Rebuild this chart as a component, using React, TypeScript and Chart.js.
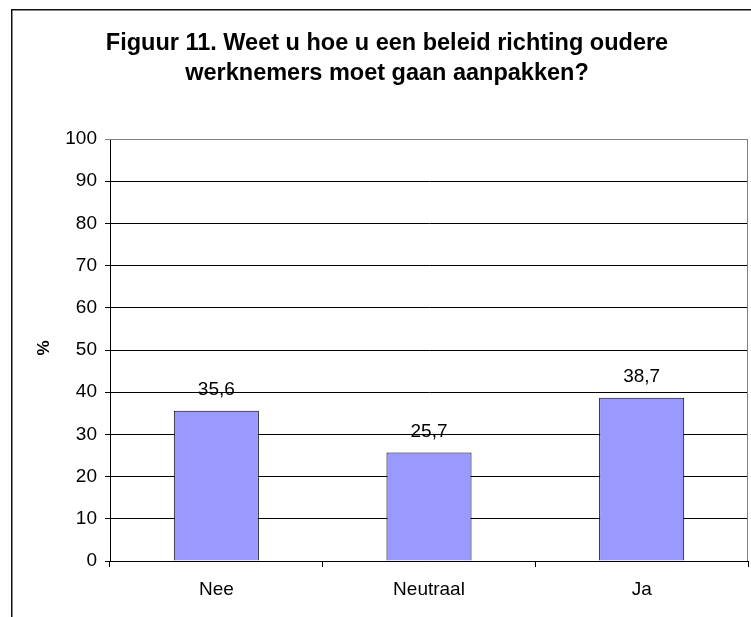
import React, { useEffect, useRef } from "react";
import { Chart, registerables } from "chart.js";
Chart.register(...registerables);

const categories = ["Nee", "Neutraal", "Ja"];
const values = [35.6, 25.7, 38.7];
const valueLabels = ["35,6", "25,7", "38,7"];
const titleLines = ["Figuur 11. Weet u hoe u een beleid richting oudere", "werknemers moet gaan aanpakken?"];
const yAxisTitle = "%";

const FONT = "'Liberation Sans', Arial, sans-serif";

export default function App() {
  const ref = useRef<HTMLCanvasElement>(null);
  useEffect(() => {
    document.body.style.margin = "0";
    const canvas = ref.current!;
    const decor = {
      id: "decor",
      beforeDraw(chart: any) {
        const ctx = chart.ctx;
        ctx.save();
        ctx.fillStyle = "#fff";
        ctx.fillRect(0, 0, chart.width, chart.height);
        ctx.strokeStyle = "#111";
        ctx.lineWidth = 1.5;
        ctx.beginPath();
        ctx.moveTo(11.75, 617);
        ctx.lineTo(11.75, 9.75);
        ctx.lineTo(751, 9.75);
        ctx.stroke();
        ctx.restore();
      },
      afterDraw(chart: any) {
        const ctx = chart.ctx;
        const a = chart.chartArea;
        ctx.save();
        ctx.strokeStyle = "#808080";
        ctx.lineWidth = 1;
        ctx.beginPath();
        ctx.moveTo(a.left, Math.round(a.top) + 0.5);
        ctx.lineTo(Math.round(a.right) - 0.5, Math.round(a.top) + 0.5);
        ctx.lineTo(Math.round(a.right) - 0.5, a.bottom);
        ctx.stroke();
        ctx.fillStyle = "#000";
        ctx.font = "bold 23.5px " + FONT;
        ctx.textAlign = "center";
        ctx.textBaseline = "alphabetic";
        ctx.fillText(titleLines[0], 387, 50);
        ctx.fillText(titleLines[1], 387, 80);
        ctx.textBaseline = "middle";
        ctx.save();
        ctx.translate(44, 348);
        ctx.rotate(-Math.PI / 2);
        ctx.font = "bold 17px " + FONT;
        ctx.fillText(yAxisTitle, 0, 0);
        ctx.restore();
        ctx.font = "19px " + FONT;
        const meta = chart.getDatasetMeta(0);
        meta.data.forEach((bar: any, i: number) => {
          ctx.fillText(valueLabels[i], bar.x, bar.y - 21);
        });
        ctx.restore();
      },
    };
    const chart = new Chart(canvas, {
      type: "bar",
      data: {
        labels: categories,
        datasets: [
          {
            data: values,
            backgroundColor: "#9999FF",
            borderColor: "#000",
            borderWidth: 1,
            categoryPercentage: 0.8,
            barPercentage: 0.5,
          },
        ],
      },
      options: {
        responsive: false,
        animation: false,
        layout: { padding: { top: 139, right: 3, left: 0, bottom: 0 } },
        plugins: { legend: { display: false }, tooltip: { enabled: false }, title: { display: false } },
        scales: {
          x: {
            afterFit(scale: any) {
              scale.height = 56;
            },
            grid: { drawOnChartArea: false, drawTicks: true, tickLength: 6, color: "#000", offset: true },
            border: { color: "#000", width: 1 },
            ticks: { color: "#000", font: { family: FONT, size: 19 }, padding: 11 },
          },
          y: {
            min: 0,
            max: 100,
            afterFit(scale: any) {
              scale.width = 110;
            },
            grid: {
              color: (c: any) => (c.tick && c.tick.value === 100 ? "#808080" : "#000"),
              tickLength: 5,
            },
            border: { color: "#000", width: 1 },
            ticks: { stepSize: 10, color: "#000", font: { family: FONT, size: 19 }, padding: 8 },
          },
        },
      },
      plugins: [decor],
    } as any);
    return () => chart.destroy();
  }, []);
  return (
    <div style={{ position: "absolute", left: 0, top: 0, width: 751, height: 617 }}>
      <canvas ref={ref} width={751} height={617} />
    </div>
  );
}
